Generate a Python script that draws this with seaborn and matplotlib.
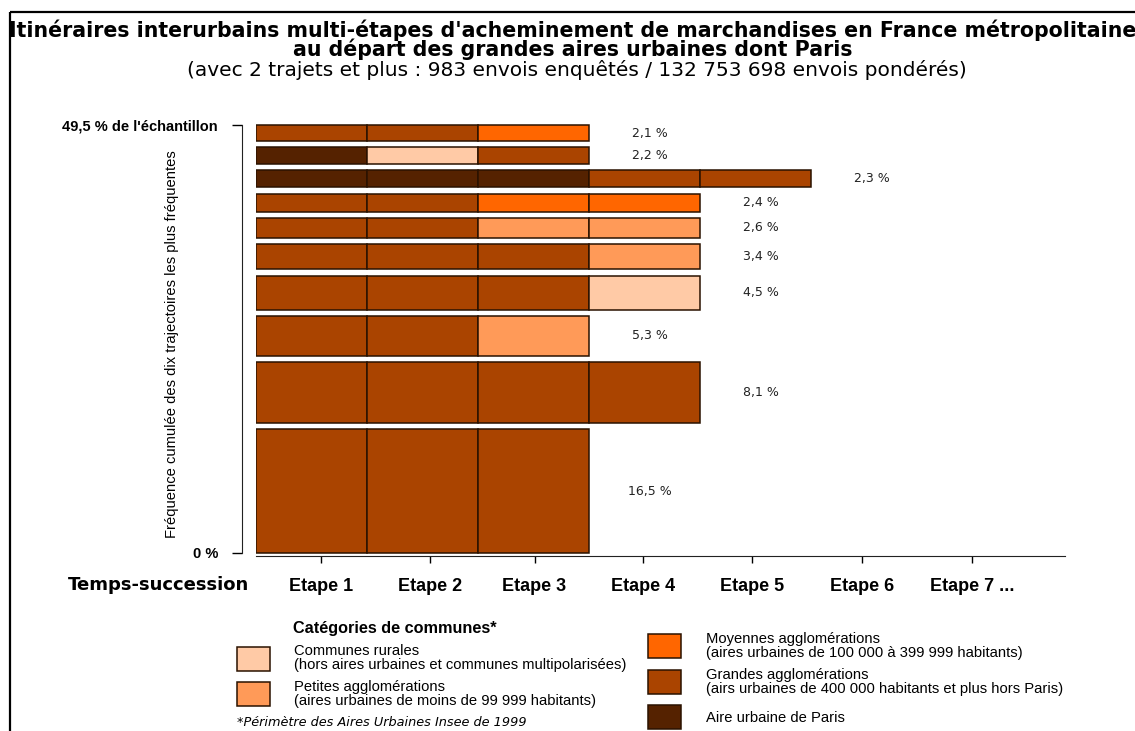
import numpy as np
import pandas as pd
import matplotlib
matplotlib.use("Agg")
import matplotlib.pyplot as plt
from matplotlib.patches import Rectangle
import seaborn as sns

# data (bottom row first)
freq = [16.5, 8.1, 5.3, 4.5, 3.4, 2.6, 2.4, 2.3, 2.2, 2.1]
paths = [
    ["G", "G", "G"],
    ["G", "G", "G", "G"],
    ["G", "G", "P"],
    ["G", "G", "G", "R"],
    ["G", "G", "G", "P"],
    ["G", "G", "P", "P"],
    ["G", "G", "M", "M"],
    ["PA", "PA", "PA", "G", "G"],
    ["PA", "R", "G"],
    ["G", "G", "M"],
]
freq_labels = ["16,5 %", "8,1 %", "5,3 %", "4,5 %", "3,4 %", "2,6 %", "2,4 %", "2,3 %", "2,2 %", "2,1 %"]
steps = ["Etape 1", "Etape 2", "Etape 3", "Etape 4", "Etape 5", "Etape 6", "Etape 7 ..."]
cat_codes = ["R", "P", "M", "G", "PA"]
cat_names = [
    "Communes rurales\n(hors aires urbaines et communes multipolarisées)",
    "Petites agglomérations\n(aires urbaines de moins de 99 999 habitants)",
    "Moyennes agglomérations\n(aires urbaines de 100 000 à 399 999 habitants)",
    "Grandes agglomérations\n(airs urbaines de 400 000 habitants et plus hors Paris)",
    "Aire urbaine de Paris",
]
cat_colors = sns.color_palette(["#ffcaa6", "#ff9a58", "#ff6600", "#aa4400", "#552200"])
col = dict(zip(cat_codes, cat_colors))

sns.set_style("white")
plt.rcParams["font.family"] = ["Liberation Sans", "DejaVu Sans"]
plt.rcParams["text.color"] = "black"
plt.rcParams["xtick.color"] = "black"
plt.rcParams["ytick.color"] = "black"

PX = 72 / 100  # points per pixel
gap = 0.85
tick_pos = [0.59, 1.57, 2.51, 3.49, 4.47, 5.46, 6.45]  # tick marks sit a bit off the segment centres

fig = plt.figure(figsize=(11.35, 7.31), dpi=100)
ax = fig.add_axes([256 / 1135, 1 - 556 / 731, 809 / 1135, 436 / 731])

# build a long table of segments
rows = []
bottom = 0.0
for i, (f, p) in enumerate(zip(freq, paths)):
    for s, c in enumerate(p):
        rows.append({"row": i, "step": s, "bottom": bottom, "h": f, "cat": c})
    bottom += f + gap
df = pd.DataFrame(rows)
top = bottom - gap

for _, r in df.iterrows():
    ax.barh(r["bottom"] + r["h"] / 2, 1, height=r["h"], left=r["step"],
            color=col[r["cat"]], edgecolor="#2a1200", linewidth=1.1)

# percentage labels in the step after the last one
bottom = 0.0
for f, p, lab in zip(freq, paths, freq_labels):
    ax.text(len(p) + 0.55, bottom + f / 2, lab, ha="center", va="center",
            fontsize=9, family="DejaVu Sans", color="#222222")
    bottom += f + gap

# spines first (set_position resets the ticks)
for s in ["top", "right"]:
    ax.spines[s].set_visible(False)
ax.spines["left"].set_position(("outward", 14 * PX))
ax.spines["left"].set_bounds(0, top)
ax.spines["bottom"].set_color("#222222")
ax.spines["left"].set_color("#222222")

ax.set_xlim(0, 7.29)
ax.set_ylim(-0.4, -0.4 + 436 / 7.5)
ax.set_xticks(tick_pos)
ax.set_xticklabels(steps, fontsize=13, fontweight="bold")
ax.set_yticks([0, top])
ax.set_yticklabels(["0 %", "49,5 % de l'échantillon"], fontsize=10.5, fontweight="bold")
ax.tick_params(axis="x", direction="out", length=7 * PX, width=1, pad=15 * PX, bottom=True)
ax.tick_params(axis="y", direction="out", length=10 * PX, width=1, pad=14 * PX, left=True)

fig.text(172 / 1135, 1 - 344 / 731, "Fréquence cumulée des dix trajectoires les plus fréquentes",
         rotation=90, ha="center", va="center", fontsize=10.6)
fig.text(158 / 1135, 1 - 585 / 731, "Temps-succession", ha="center", va="center",
         fontsize=13, fontweight="bold", family="DejaVu Sans")

# titles
fig.text(573 / 1135, 1 - 40 / 731,
         "Itinéraires interurbains multi-étapes d'acheminement de marchandises en France métropolitaine\n"
         "au départ des grandes aires urbaines dont Paris",
         ha="center", va="center", fontsize=14.8, fontweight="bold", family="DejaVu Sans",
         linespacing=0.84)
fig.text(577 / 1135, 1 - 70 / 731,
         "(avec 2 trajets et plus : 983 envois enquêtés / 132 753 698 envois pondérés)",
         ha="center", va="center", fontsize=14.5, family="DejaVu Sans")

# overlay in pixel coordinates for frame and legend
ov = fig.add_axes([0, 0, 1, 1], zorder=-1)
ov.set_xlim(0, 1135)
ov.set_ylim(731, 0)
ov.axis("off")
ov.add_patch(Rectangle((10, 12), 1200, 800, fill=False, edgecolor="black", linewidth=1.6))

lg = fig.add_axes([0, 0, 1, 1])
lg.set_xlim(0, 1135)
lg.set_ylim(731, 0)
lg.axis("off")
lg.text(293, 629, "Catégories de communes*", fontsize=11.7, fontweight="bold", va="center")
sw_pos = [(237, 647), (237, 682), (648, 634), (648, 670), (648, 705)]
txt_pos = [(294, 658), (294, 694), (706, 646), (706, 682), (706, 718)]
for c, (sx, sy), (tx, ty), name in zip(cat_codes, sw_pos, txt_pos, cat_names):
    lg.add_patch(Rectangle((sx, sy), 33, 24, facecolor=col[c], edgecolor="#2a1200", linewidth=1.1))
    lg.text(tx, ty, name, fontsize=10.6, va="center", linespacing=1.05)
lg.text(237, 722, "*Périmètre des Aires Urbaines Insee de 1999", fontsize=9.3,
        style="italic", family="DejaVu Sans", va="center")

fig.savefig("out.png", dpi=100)
